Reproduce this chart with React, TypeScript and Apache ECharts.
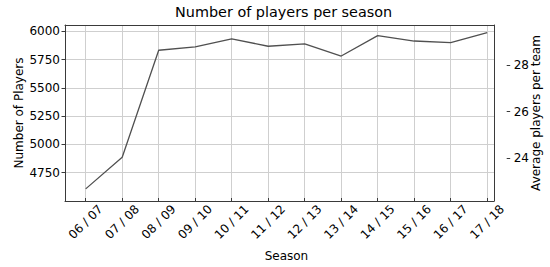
import React, { useEffect, useRef } from "react";
import * as echarts from "echarts";

const seasons = ["06 / 07", "07 / 08", "08 / 09", "09 / 10", "10 / 11", "11 / 12", "12 / 13", "13 / 14", "14 / 15", "15 / 16", "16 / 17", "17 / 18"];
const players = [4582, 4866, 5828, 5858, 5931, 5864, 5885, 5776, 5960, 5911, 5896, 5987];
const rightMin = 24;
const rightMax = 28;
const rightStep = 2;

const FONT = "DejaVu Sans";
const AXIS_COLOR = "#3a3a3a";
const GRID_COLOR = "#cfcfcf";

export default function App() {
  const ref = useRef<HTMLDivElement>(null);
  useEffect(() => {
    document.body.style.margin = "0";
    const chart = echarts.init(ref.current!, null, { renderer: "svg" });
    const frame = { left: 65, right: 43.3, top: 25, bottom: 66 };
    const inner = { left: 85.7, right: 62.8, top: 25, bottom: 66 };
    const rightGrid = { left: 65, right: 43.3, top: 65.2, bottom: 108.8 };
    const lineAxis = { show: true, onZero: false, lineStyle: { color: AXIS_COLOR, width: 1 } };
    const noLine = { show: false, onZero: false };
    const labelStyle = { fontSize: 12, color: "#000", fontFamily: FONT };
    chart.setOption({
      animation: false,
      backgroundColor: "#ffffff",
      textStyle: { fontFamily: FONT },
      title: {
        text: "Number of players per season",
        left: 175,
        top: 5,
        padding: 0,
        textStyle: { fontSize: 14.4, fontWeight: "normal", color: "#000", fontFamily: FONT },
      },
      grid: [
        { ...frame, containLabel: false },
        { ...inner, containLabel: false },
        { ...rightGrid, containLabel: false },
      ],
      xAxis: [
        {
          gridIndex: 0, type: "value", min: 0, max: 1, position: "bottom",
          axisLine: lineAxis, axisTick: { show: false }, axisLabel: { show: false }, splitLine: { show: false },
        },
        {
          gridIndex: 0, type: "value", min: 0, max: 1, position: "top",
          axisLine: lineAxis, axisTick: { show: false }, axisLabel: { show: false }, splitLine: { show: false },
        },
        {
          gridIndex: 1, type: "category", data: seasons, boundaryGap: false, position: "bottom",
          axisLine: noLine,
          axisTick: { show: true, length: 3.5, lineStyle: { color: AXIS_COLOR } },
          axisLabel: {
            ...labelStyle, rotate: 45, align: "center", verticalAlign: "middle", margin: 24, interval: 0,
          },
          splitLine: { show: true, lineStyle: { color: GRID_COLOR, width: 1 } },
          name: "Season", nameLocation: "middle", nameGap: 52, nameMoveOverlap: false,
          nameTextStyle: labelStyle,
        },
        {
          gridIndex: 2, type: "value", min: 0, max: 1, show: false, axisLine: noLine,
        },
      ],
      yAxis: [
        {
          gridIndex: 0, type: "value", min: 4500, max: 6055, interval: 250, position: "left",
          axisLine: lineAxis,
          axisTick: { show: true, length: 3.5, lineStyle: { color: AXIS_COLOR } },
          axisLabel: {
            ...labelStyle, margin: 5, showMinLabel: false, showMaxLabel: false,
            formatter: (v: number) => String(v),
          },
          splitLine: { show: true, lineStyle: { color: GRID_COLOR, width: 1 } },
          name: "Number of Players", nameLocation: "middle", nameGap: 40, nameMoveOverlap: false,
          nameTextStyle: labelStyle,
        },
        {
          gridIndex: 0, type: "value", min: 0, max: 1, position: "right",
          axisLine: lineAxis, axisTick: { show: false }, axisLabel: { show: false }, splitLine: { show: false },
          name: "Average players per team", nameLocation: "middle", nameGap: 36, nameMoveOverlap: false,
          nameTextStyle: labelStyle,
        },
        {
          gridIndex: 1, type: "value", min: 4500, max: 6055, show: false, axisLine: noLine,
          splitLine: { show: false },
        },
        {
          gridIndex: 2, type: "value", min: rightMin, max: rightMax, interval: rightStep, position: "right",
          axisLine: noLine,
          axisTick: { show: true, length: 3.5, lineStyle: { color: AXIS_COLOR } },
          axisLabel: { ...labelStyle, margin: 7 },
          splitLine: { show: false },
        },
      ],
      series: [
        {
          type: "line",
          xAxisIndex: 2,
          yAxisIndex: 2,
          data: players,
          symbol: "none",
          lineStyle: { color: "#505050", width: 1.3 },
          z: 5,
        },
      ],
    });
    return () => chart.dispose();
  }, []);
  return <div ref={ref} style={{ position: "fixed", left: 0, top: 0, width: 550, height: 267 }} />;
}
